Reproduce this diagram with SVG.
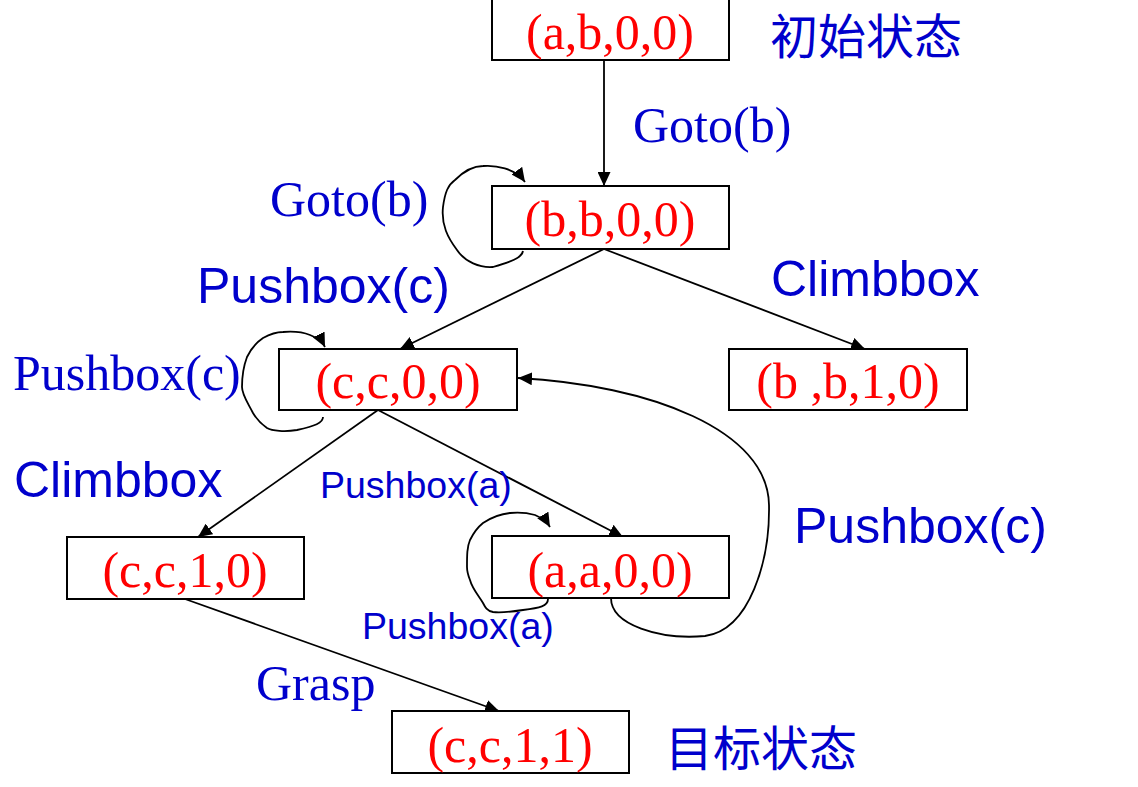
<svg xmlns="http://www.w3.org/2000/svg" width="1138" height="787" viewBox="0 0 1138 787">
<style>
.box{fill:#fff;stroke:#000;stroke-width:2}
.st{font-family:"Liberation Serif","Times New Roman",serif;font-size:50px;fill:#ff0000;text-anchor:middle}
.ls{font-family:"Liberation Serif","Times New Roman",serif;font-size:50px;fill:#0000cc}
.la{font-family:"Liberation Sans",Arial,sans-serif;font-size:50px;fill:#0000cc}
.lm{font-family:"Liberation Sans",Arial,sans-serif;font-size:37.5px;fill:#0000cc}
.cj{font-family:"Noto Sans CJK SC",sans-serif;font-size:48px;fill:#0000cc}
.e{fill:none;stroke:#000;stroke-width:1.8}
</style>
<defs>
<marker id="ah" markerUnits="userSpaceOnUse" markerWidth="15" markerHeight="13" refX="14" refY="6.5" orient="auto">
<path d="M0,0 L14,6.5 L0,13 z" fill="#000"/>
</marker>
</defs>
<rect width="1138" height="787" fill="#fff"/>
<g id="connectors">
<line class="e" x1="604" y1="60" x2="604" y2="186" marker-end="url(#ah)"/>
<line class="e" x1="604" y1="249" x2="400" y2="349" marker-end="url(#ah)"/>
<line class="e" x1="604" y1="249" x2="865" y2="349" marker-end="url(#ah)"/>
<line class="e" x1="378" y1="410" x2="198" y2="537" marker-end="url(#ah)"/>
<line class="e" x1="378" y1="410" x2="623" y2="537" marker-end="url(#ah)"/>
<line class="e" x1="185" y1="599" x2="499" y2="711" marker-end="url(#ah)"/>
<path class="e" d="M523,251 C522,258 510,262 493,267 C480,268 465,262 457,250 C448,238 441,225 443,207 C445,192 448,185 455,180 C465,170 475,166 483,166 C495,165 515,168 525,182" marker-end="url(#ah)"/>
<path class="e" d="M323,417 C323,423 315,426 297,430 C285,432 272,431 267,428 C260,423 256,418 253,413 C248,403 242,395 242,387 C242,375 244,365 247,357 C252,347 257,342 263,338 C272,333 278,332 283,332 C295,331 305,333 310,335 C318,338 322,341 325,347" marker-end="url(#ah)"/>
<path class="e" d="M548,599 C548,606 540,608 523,610 C510,612 500,613 493,612 C487,611 485,607 483,603 C478,595 472,588 470,580 C468,575 467,572 467,567 C467,555 467,547 470,540 C474,532 478,527 483,523 C492,517 500,514 510,513 C520,512 528,513 535,515 C542,518 547,522 550,527" marker-end="url(#ah)"/>
<path class="e" d="M611,598 C611,625 660,640 705,636 C750,630 770,560 769,505 C768,430 650,385 518,378" marker-end="url(#ah)"/>
</g>
<g id="n-abe00">
<rect class="box" x="492" y="-2" width="237" height="62"/>
<text class="st" x="610" y="49">(a,b,0,0)</text>
</g>
<g id="n-bb00">
<rect class="box" x="492" y="186" width="237" height="63"/>
<text class="st" x="610" y="236">(b,b,0,0)</text>
</g>
<g id="n-cc00">
<rect class="box" x="279" y="349" width="238" height="61"/>
<text class="st" x="398" y="398">(c,c,0,0)</text>
</g>
<g id="n-bb10">
<rect class="box" x="729" y="349" width="238" height="61"/>
<text class="st" x="848" y="398">(b ,b,1,0)</text>
</g>
<g id="n-cc10">
<rect class="box" x="67" y="537" width="237" height="62"/>
<text class="st" x="185" y="587">(c,c,1,0)</text>
</g>
<g id="n-aa00">
<rect class="box" x="492" y="536" width="237" height="62"/>
<text class="st" x="610" y="587">(a,a,0,0)</text>
</g>
<g id="n-cc11">
<rect class="box" x="392" y="711" width="237" height="62"/>
<text class="st" x="510" y="762">(c,c,1,1)</text>
</g>
<g id="labels">
<text class="cj" x="770" y="54">初始状态</text>
<text class="cj" x="665" y="766">目标状态</text>
<text class="ls" x="633" y="142">Goto(b)</text>
<text class="ls" x="270" y="216">Goto(b)</text>
<text class="la" x="197" y="303">Pushbox(c)</text>
<text class="la" x="771" y="296">Climbbox</text>
<text class="ls" x="13" y="390">Pushbox(c)</text>
<text class="la" x="14" y="497">Climbbox</text>
<text class="lm" x="320" y="498">Pushbox(a)</text>
<text class="la" x="794" y="543">Pushbox(c)</text>
<text class="lm" x="362" y="639">Pushbox(a)</text>
<text class="ls" x="256" y="700">Grasp</text>
</g>
</svg>
